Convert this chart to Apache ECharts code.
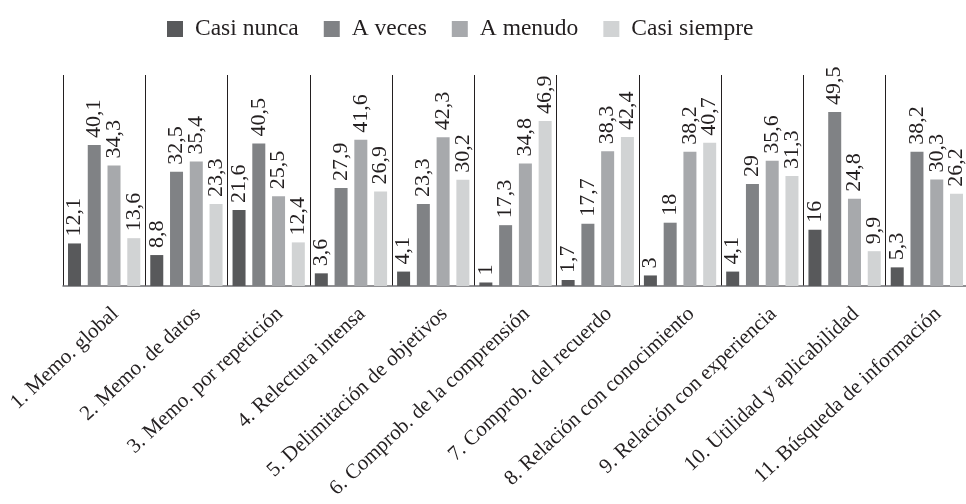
<!DOCTYPE html>
<html>
<head>
<meta charset="utf-8">
<script src="https://cdn.jsdelivr.net/npm/echarts@6/dist/echarts.min.js"></script>
<style>
  html, body { margin: 0; padding: 0; background: #fff; }
  #chart { width: 966px; height: 504px; }
</style>
</head>
<body>
<div id="chart"></div>
<script>
// Estrategias de estudio y frecuencia de uso (%)
const categories = [
  '1. Memo. global',
  '2. Memo. de datos',
  '3. Memo. por repetición',
  '4. Relectura intensa',
  '5. Delimitación de objetivos',
  '6. Comprob. de la comprensión',
  '7. Comprob. del recuerdo',
  '8. Relación con conocimiento',
  '9. Relación con experiencia',
  '10. Utilidad y aplicabilidad',
  '11. Búsqueda de información'
];
const seriesNames = ['Casi nunca', 'A veces', 'A menudo', 'Casi siempre'];
const casiNunca   = [12.1, 8.8, 21.6, 3.6, 4.1, 1, 1.7, 3, 4.1, 16, 5.3];
const aVeces      = [40.1, 32.5, 40.5, 27.9, 23.3, 17.3, 17.7, 18, 29, 49.5, 38.2];
const aMenudo     = [34.3, 35.4, 25.5, 41.6, 42.3, 34.8, 38.3, 38.2, 35.6, 24.8, 30.3];
const casiSiempre = [13.6, 23.3, 12.4, 26.9, 30.2, 46.9, 42.4, 40.7, 31.3, 9.9, 26.2];

const colors = ['#58595b', '#808285', '#a7a9ac', '#d1d3d4'];
const FONT = 'Liberation Serif';
const TEXT = '#231f20';

const values = [casiNunca, aVeces, aMenudo, casiSiempre];

const chart = echarts.init(document.getElementById('chart'), null, { renderer: 'canvas' });

chart.setOption({
  animation: false,
  backgroundColor: '#ffffff',
  color: colors,
  textStyle: { fontFamily: FONT, color: TEXT },
  legend: {
    top: 12,
    left: 162,
    itemWidth: 16,
    itemHeight: 16,
    itemGap: 25,
    icon: 'rect',
    textStyle: { fontFamily: FONT, fontSize: 23.5, color: TEXT, padding: [0, 0, 0, 7] },
    data: seriesNames
  },
  grid: { left: 63, top: 75, width: 905, bottom: 218, containLabel: false, outerBoundsMode: 'none' },
  xAxis: {
    type: 'category',
    data: categories,
    axisLine: { show: true, lineStyle: { color: '#6d6e71', width: 1.5 } },
    axisTick: { show: false },
    splitLine: { show: true, lineStyle: { color: '#231f20', width: 1 } },
    axisLabel: {
      interval: 0,
      rotate: 43,
      margin: 13,
      verticalAlign: 'top',
      padding: [6, 0, 0, 0],
      fontFamily: FONT,
      fontSize: 21,
      color: TEXT
    }
  },
  yAxis: {
    type: 'value',
    min: 0,
    max: 60,
    show: false,
    splitLine: { show: false }
  },
  series: seriesNames.map((name, i) => ({
    name,
    type: 'bar',
    data: values[i],
    barWidth: 13,
    barGap: '52%',
    itemStyle: { color: colors[i] },
    label: {
      show: true,
      position: 'top',
      rotate: 90,
      align: 'left',
      verticalAlign: 'middle',
      distance: 7,
      fontFamily: FONT,
      fontSize: 22,
      color: TEXT,
      formatter: p => String(p.value).replace('.', ',')
    }
  }))
});
</script>
</body>
</html>
